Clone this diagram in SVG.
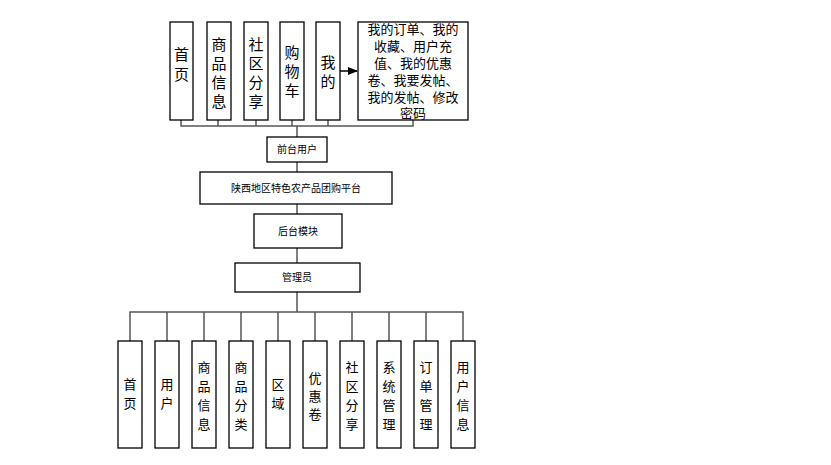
<svg xmlns="http://www.w3.org/2000/svg" width="831" height="465" viewBox="0 0 831 465">
<style>
rect{fill:#fff;stroke:#000;stroke-width:1.3}
text{font-family:"Noto Sans CJK SC",sans-serif;fill:#000;text-anchor:middle}
.t{font-size:15px}.g{font-size:13px}.b{font-size:13px}.m{font-size:10px}
.c{fill:none;stroke:#555;stroke-width:1.5}
</style>
<defs><marker id="a" markerWidth="10" markerHeight="8" refX="9" refY="4" orient="auto" markerUnits="userSpaceOnUse"><path d="M0,0L10,4L0,8z" fill="#000"/></marker></defs>
<g id="connectors">
<path class="c" d="M181,120V126H413V120M218,120V126M256,120V126M292,120V126M328,120V126M297,126V137M297,162V172M297,204V214M297,248V263M297,292V312"/>
<path class="c" d="M130,341V312H463V341M167,312V341M204,312V341M241,312V341M278,312V341M315,312V341M352,312V341M389,312V341M426,312V341"/>
<path d="M340,71H357" stroke="#000" stroke-width="1.5" marker-end="url(#a)"/>
</g>
<g id="n1"><rect x="170" y="22" width="23" height="98"/><text class="t" x="181.5" y="60">首</text><text class="t" x="181.5" y="80">页</text></g>
<g id="n2"><rect x="207" y="22" width="24" height="98"/><text class="t" x="219" y="50">商</text><text class="t" x="219" y="69">品</text><text class="t" x="219" y="88">信</text><text class="t" x="219" y="107">息</text></g>
<g id="n3"><rect x="244" y="22" width="24" height="98"/><text class="t" x="256" y="50">社</text><text class="t" x="256" y="69">区</text><text class="t" x="256" y="88">分</text><text class="t" x="256" y="107">享</text></g>
<g id="n4"><rect x="280" y="22" width="24" height="98"/><text class="t" x="292" y="58">购</text><text class="t" x="292" y="77">物</text><text class="t" x="292" y="96">车</text></g>
<g id="n5"><rect x="316" y="22" width="24" height="98"/><text class="t" x="328" y="68">我</text><text class="t" x="328" y="87">的</text></g>
<g id="n6"><rect x="358" y="22" width="110" height="98"/>
<text class="g" x="413" y="34">我的订单、我的</text><text class="g" x="413" y="51">收藏、用户充</text><text class="g" x="413" y="68">值、我的优惠</text><text class="g" x="413" y="85">卷、我要发帖、</text><text class="g" x="413" y="102">我的发帖、修改</text><text class="g" x="413" y="118">密码</text></g>
<g id="n7"><rect x="267" y="137" width="60" height="25"/><text class="m" x="297" y="153">前台用户</text></g>
<g id="n8"><rect x="200" y="172" width="192" height="32"/><text class="m" x="296" y="192">陕西地区特色农产品团购平台</text></g>
<g id="n9"><rect x="254" y="214" width="88" height="34"/><text class="m" x="298" y="235">后台模块</text></g>
<g id="n10"><rect x="235" y="263" width="125" height="29"/><text class="m" x="297" y="281">管理员</text></g>
<g id="b1"><rect x="118" y="341" width="24" height="107"/><text class="b" x="130" y="389">首</text><text class="b" x="130" y="408">页</text></g>
<g id="b2"><rect x="155" y="341" width="24" height="107"/><text class="b" x="167" y="389">用</text><text class="b" x="167" y="408">户</text></g>
<g id="b3"><rect x="192" y="341" width="24" height="107"/><text class="b" x="204" y="372">商</text><text class="b" x="204" y="391">品</text><text class="b" x="204" y="410">信</text><text class="b" x="204" y="429">息</text></g>
<g id="b4"><rect x="229" y="341" width="24" height="107"/><text class="b" x="241" y="372">商</text><text class="b" x="241" y="391">品</text><text class="b" x="241" y="410">分</text><text class="b" x="241" y="429">类</text></g>
<g id="b5"><rect x="266" y="341" width="24" height="107"/><text class="b" x="278" y="389">区</text><text class="b" x="278" y="408">域</text></g>
<g id="b6"><rect x="303" y="341" width="24" height="107"/><text class="b" x="315" y="383">优</text><text class="b" x="315" y="401">惠</text><text class="b" x="315" y="419">卷</text></g>
<g id="b7"><rect x="340" y="341" width="24" height="107"/><text class="b" x="352" y="372">社</text><text class="b" x="352" y="391">区</text><text class="b" x="352" y="410">分</text><text class="b" x="352" y="429">享</text></g>
<g id="b8"><rect x="377" y="341" width="24" height="107"/><text class="b" x="389" y="372">系</text><text class="b" x="389" y="391">统</text><text class="b" x="389" y="410">管</text><text class="b" x="389" y="429">理</text></g>
<g id="b9"><rect x="414" y="341" width="24" height="107"/><text class="b" x="426" y="372">订</text><text class="b" x="426" y="391">单</text><text class="b" x="426" y="410">管</text><text class="b" x="426" y="429">理</text></g>
<g id="b10"><rect x="451" y="341" width="24" height="107"/><text class="b" x="463" y="372">用</text><text class="b" x="463" y="391">户</text><text class="b" x="463" y="410">信</text><text class="b" x="463" y="429">息</text></g>
</svg>
